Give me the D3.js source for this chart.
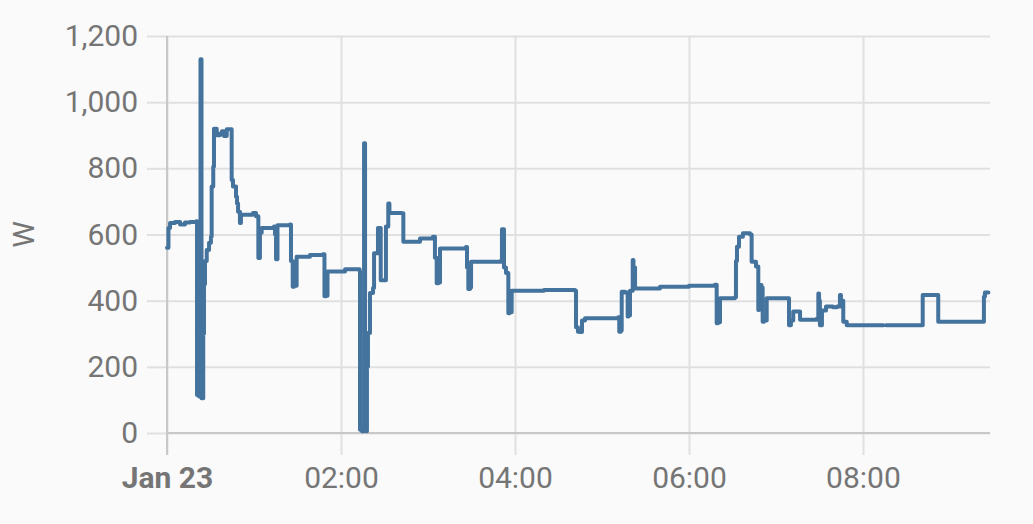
<!DOCTYPE html>
<html><head><meta charset="utf-8">
<script src="https://cdn.jsdelivr.net/npm/d3@7"></script>
<style>
html,body{margin:0;padding:0;background:#fafafa;}
svg{display:block;font-family:Roboto,"Noto Sans",sans-serif;}
</style></head>
<body><svg id="c" width="1033" height="524"></svg>
<script>
// minutes after midnight, Jan 23
const times = [0,1.0,2.1,5.5,9.0,12.4,15.9,20.3,20.7,22.1,23.1,23.8,25.0,25.5,26.2,27.4,29.0,30.3,30.8,31.9,32.4,34.3,36.6,37.9,39.3,41.2,43.4,44.6,45.5,47.6,48.3,49.0,50.3,51.0,59.3,61.4,63.0,64.1,65.3,73.8,74.5,75.2,76.2,84.8,85.5,86.7,87.6,89.4,98.6,107.6,108.6,109.7,110.7,122.8,132.8,133.1,134.5,135.9,136.6,137.6,137.9,138.6,140.0,142.1,142.8,145.5,147.4,149.2,151.0,152.6,153.4,161.9,163.0,174.5,183.4,184.8,186.0,187.1,188.3,206.2,206.9,207.8,209.0,209.7,230.1,231.0,231.9,232.4,233.8,235.4,236.2,237.7,260.0,281.4,282.1,283.4,284.8,286.2,288.3,311.2,311.9,313.1,313.6,315.9,317.7,318.3,319.3,321.2,321.7,322.8,340.0,360.0,377.9,379.1,380.0,381.4,391.7,392.4,393.1,394.5,397.2,402.1,403.2,406.2,407.8,408.3,409.4,410.0,410.8,411.7,413.6,428.5,429.0,430.3,431.9,434.5,436.6,448.1,449.2,449.7,450.3,451.7,454.5,459.3,462.1,464.1,464.8,466.4,468.8,494.0,494.8,495.9,520.5,521.2,530.8,531.9,563.0,563.4,564.1,566.5];
const watts = [560,620,635,638,630,636,638,640,115,110,1130,105,300,450,520,553,575,593,745,805,920,900,905,912,898,918,918,765,745,714,694,669,635,660,665,655,529,605,620,624,600,525,628,630,520,442,445,533,538,540,413,415,488,495,490,10,5,876,10,5,200,302,423,438,543,620,462,462,624,694,665,664,578,588,593,530,453,455,558,562,500,435,440,518,520,616,616,500,484,362,365,430,432,430,320,306,305,340,347,350,306,310,427,425,352,355,430,523,500,437,442,445,448,332,335,407,410,520,563,593,604,600,518,503,372,375,447,440,336,340,407,407,326,340,367,367,342,345,422,400,326,370,382,380,382,417,400,336,326,326,null,326,326,417,417,336,336,412,425,425];
const yTicks = [0,200,400,600,800,1000,1200];
const xTickHours = [0,2,4,6,8];
const unitLabel = "W";
const dayLabel = "Jan 23";

const base = new Date(2024,0,23,0,0,0);
const data = times.map((t,i)=>({t:new Date(base.getTime()+t*60000), v:watts[i]}));

const svg = d3.select("#c");
const L=167,R=990,T=36,B=433;
const x = d3.scaleTime().domain([base, new Date(base.getTime()+567.6*60000)]).range([L,R]);
const y = d3.scaleLinear().domain([0,1200]).range([B,T]);

const grid="#e0e0e0", axisC="#c8c8c8", txt="#757575";
const fs="30px";

// horizontal grid + y ticks
const yAxis = d3.axisLeft(y).tickValues(yTicks).tickSize(20).tickPadding(9).tickFormat(d3.format(","));
const gy = svg.append("g").attr("transform",`translate(${L},0)`).call(yAxis);
gy.select(".domain").remove();
gy.selectAll(".tick line").attr("stroke",grid).attr("stroke-width",2);
gy.selectAll(".tick").append("line").attr("x1",0).attr("x2",R-L).attr("stroke",grid).attr("stroke-width",2);
gy.selectAll(".tick text").attr("fill",txt).style("font-size",fs).attr("font-family","Roboto");

// vertical grid + x ticks
const xTicks = xTickHours.map(h=>new Date(base.getTime()+h*3600000));
const xAxis = d3.axisBottom(x).tickValues(xTicks).tickSize(22).tickPadding(12)
  .tickFormat(d=> d.getHours()===0 ? dayLabel : d3.timeFormat("%H:%M")(d));
const gx = svg.append("g").attr("transform",`translate(0,${B})`).call(xAxis);
gx.select(".domain").remove();
gx.selectAll(".tick line").attr("stroke",grid).attr("stroke-width",2).attr("y1",T-B);
gx.selectAll(".tick text").attr("fill",txt).style("font-size",fs).attr("font-family","Roboto")
  .attr("font-weight",d=>d.getHours()===0?"bold":null);

// axis lines
svg.append("line").attr("x1",L).attr("x2",L).attr("y1",T).attr("y2",B+22).attr("stroke",axisC).attr("stroke-width",2);
svg.append("line").attr("x1",L).attr("x2",R).attr("y1",B).attr("y2",B).attr("stroke",axisC).attr("stroke-width",2);

// y label
svg.append("text").attr("transform",`translate(34,${(T+B)/2}) rotate(-90)`).attr("text-anchor","middle")
  .attr("fill",txt).style("font-size",fs).text(unitLabel);

// line
const line = d3.line().defined(d=>d.v!==null).x(d=>x(d.t)).y(d=>y(d.v)).curve(d3.curveStepAfter);
svg.append("path").datum(data).attr("d",line).attr("fill","none").attr("stroke","#44739e")
  .attr("stroke-width",4).attr("stroke-linejoin","round").attr("stroke-linecap","round");
</script></body></html>
